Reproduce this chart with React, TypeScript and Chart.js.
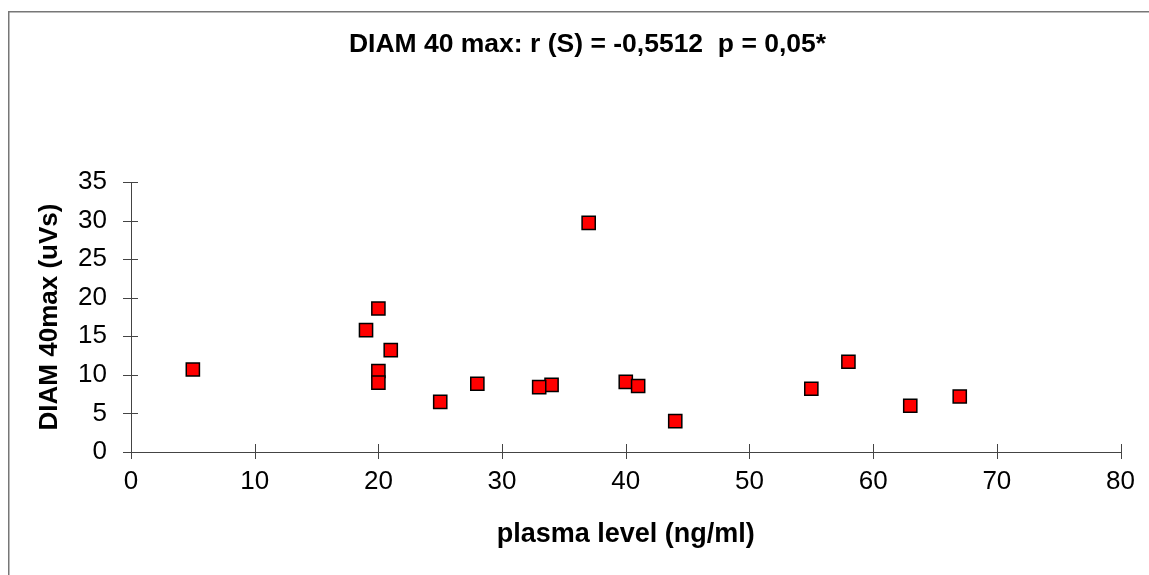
import React, { useEffect, useRef } from 'react';
import { Chart, registerables } from 'chart.js';

Chart.register(...registerables);

// ---- data ----
const plasmaLevel = [5, 19, 20, 20, 20, 21, 25, 28, 34, 33, 37, 40, 41, 44, 55, 58, 63, 67];
const diam40Max = [10.7, 15.8, 18.6, 10.5, 9.0, 13.2, 6.5, 8.85, 8.7, 8.4, 29.7, 9.1, 8.55, 4.0, 8.2, 11.7, 6.0, 7.2];
const xTicks = [0, 10, 20, 30, 40, 50, 60, 70, 80];
const yTicks = [0, 5, 10, 15, 20, 25, 30, 35];
const chartTitle = 'DIAM 40 max: r (S) = -0,5512  p = 0,05*';
const xTitle = 'plasma level (ng/ml)';
const yTitle = 'DIAM 40max (uVs)';

const FONT = '"Liberation Sans", Arial, Helvetica, sans-serif';
const AXIS_COLOR = '#444444';

const decorPlugin = {
  id: 'decor',
  beforeDraw(chart: any) {
    const ctx = chart.ctx;
    ctx.save();
    ctx.strokeStyle = '#777777';
    ctx.lineWidth = 1.5;
    ctx.beginPath();
    ctx.moveTo(8.75, chart.height);
    ctx.lineTo(8.75, 11.75);
    ctx.lineTo(chart.width, 11.75);
    ctx.stroke();
    ctx.restore();
  },
  beforeDatasetsDraw(chart: any) {
    const ctx = chart.ctx;
    const xs = chart.scales.x;
    const ys = chart.scales.y;
    const area = chart.chartArea;
    ctx.save();
    ctx.strokeStyle = AXIS_COLOR;
    ctx.lineWidth = 1;
    ctx.beginPath();
    for (const v of xTicks) {
      const px = Math.round(xs.getPixelForValue(v)) + 0.5;
      ctx.moveTo(px, area.bottom - 8);
      ctx.lineTo(px, area.bottom + 7);
    }
    for (const v of yTicks) {
      const py = Math.round(ys.getPixelForValue(v)) + 0.5;
      ctx.moveTo(area.left - 8, py);
      ctx.lineTo(area.left + 7, py);
    }
    ctx.stroke();
    ctx.restore();
  },
};

export default function App() {
  const canvasRef = useRef<HTMLCanvasElement | null>(null);

  useEffect(() => {
    const canvas = canvasRef.current;
    if (!canvas) return;
    const points = plasmaLevel.map((x, i) => ({ x, y: diam40Max[i] }));
    const chart = new Chart(canvas, {
      type: 'scatter',
      data: {
        datasets: [
          {
            label: yTitle,
            data: points,
            pointStyle: 'rect',
            pointRadius: 9.3,
            pointHoverRadius: 9.3,
            backgroundColor: '#ff0000',
            borderColor: '#000000',
            borderWidth: 1.5,
          },
        ],
      },
      options: {
        responsive: false,
        animation: false,
        layout: { padding: { left: 52, right: 26, top: 0, bottom: 0 } },
        plugins: {
          legend: { display: false },
          tooltip: { enabled: false },
          title: {
            display: true,
            text: chartTitle,
            color: '#000000',
            font: { family: FONT, size: 26.5, weight: 'bold', lineHeight: 1.2 },
            padding: { top: 29, bottom: 121.2 },
          },
        },
        scales: {
          x: {
            type: 'linear',
            min: 0,
            max: 80,
            afterBuildTicks: (s: any) => {
              s.ticks = xTicks.map((v) => ({ value: v }));
            },
            afterFit: (s: any) => {
              s.height = 123;
            },
            grid: { display: false, drawTicks: false },
            border: { display: true, color: AXIS_COLOR, width: 1 },
            ticks: {
              color: '#000000',
              font: { family: FONT, size: 26, lineHeight: 1.2 },
              padding: 14,
              maxRotation: 0,
              autoSkip: false,
            },
            title: {
              display: true,
              text: xTitle,
              color: '#000000',
              font: { family: FONT, size: 27, weight: 'bold', lineHeight: 1.2 },
              padding: { top: 0, bottom: 23.8 },
            },
          },
          y: {
            type: 'linear',
            min: 0,
            max: 35,
            afterBuildTicks: (s: any) => {
              s.ticks = yTicks.map((v) => ({ value: v }));
            },
            afterFit: (s: any) => {
              s.width = 79;
            },
            grid: { display: false, drawTicks: false },
            border: { display: true, color: AXIS_COLOR, width: 1 },
            ticks: {
              color: '#000000',
              font: { family: FONT, size: 26, lineHeight: 1.2 },
              padding: 24,
              autoSkip: false,
            },
            title: {
              display: true,
              text: yTitle,
              color: '#000000',
              font: { family: FONT, size: 26, weight: 'bold', lineHeight: 1.2 },
              padding: { top: -17.6, bottom: 0 },
            },
          },
        },
      },
      plugins: [decorPlugin],
    });
    return () => chart.destroy();
  }, []);

  return (
    <div style={{ position: 'fixed', left: 0, top: 0, width: 1149, height: 575, background: '#ffffff' }}>
      <canvas ref={canvasRef} width={1149} height={575} style={{ display: 'block', width: 1149, height: 575 }} />
    </div>
  );
}
